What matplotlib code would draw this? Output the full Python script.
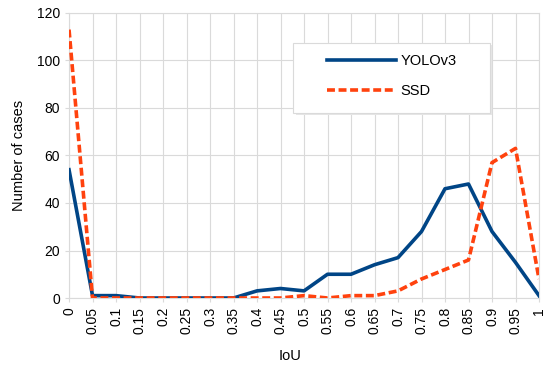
import matplotlib.pyplot as plt
from matplotlib.patches import Rectangle
import numpy as np

plt.rcParams["font.family"] = ["Liberation Sans", "DejaVu Sans"]

iou = [0, 0.05, 0.1, 0.15, 0.2, 0.25, 0.3, 0.35, 0.4, 0.45, 0.5,
       0.55, 0.6, 0.65, 0.7, 0.75, 0.8, 0.85, 0.9, 0.95, 1]
iou_labels = ["0", "0.05", "0.1", "0.15", "0.2", "0.25", "0.3", "0.35", "0.4", "0.45", "0.5",
              "0.55", "0.6", "0.65", "0.7", "0.75", "0.8", "0.85", "0.9", "0.95", "1"]
yolo = [54, 1, 1, 0, 0, 0, 0, 0, 3, 4, 3, 10, 10, 14, 17, 28, 46, 48, 28, 15, 1]
ssd = [113, 0, 0, 0, 0, 0, 0, 0, 0, 0, 1, 0, 1, 1, 3, 8, 12, 16, 57, 63, 8]

grid_c = "#dadada"

fig = plt.figure(figsize=(5.5, 3.67), dpi=100)
ax = fig.add_axes([0.1255, 0.188, 0.8545, 0.7766])

ax.plot(iou, yolo, color="#004586", lw=2.6, label="YOLOv3", zorder=3)
ax.plot(iou, ssd, color="#ff420e", lw=2.6, linestyle=(0, (2.2, 1.0)), label="SSD", zorder=3)

ax.set_xlim(0, 1)
ax.set_ylim(0, 120)
ax.set_xticks(iou)
ax.set_xticklabels(iou_labels, rotation=90)
ax.set_yticks(np.arange(0, 121, 20))
ax.grid(True, color=grid_c, lw=0.8)
ax.set_axisbelow(True)
for s in ax.spines.values():
    s.set_color(grid_c)
    s.set_linewidth(0.8)
ax.tick_params(axis="both", colors=grid_c, labelcolor="black", length=3, width=0.8, labelsize=10)

ax.set_xlabel("IoU", fontsize=10.5)
ax.xaxis.set_label_coords(0.47, -0.18)
ax.set_ylabel("Number of cases", fontsize=10.5, labelpad=8)

# legend box (drawn separately to get the wide side padding of the original)
ax.add_patch(Rectangle((0.482, 0.643), 0.419, 0.2456, transform=ax.transAxes,
                       facecolor="#e6e6e6", edgecolor="none", zorder=4))
ax.add_patch(Rectangle((0.4766, 0.649), 0.419, 0.2456, transform=ax.transAxes,
                       facecolor="white", edgecolor=grid_c, lw=0.8, zorder=5))
leg = ax.legend(loc="upper left", bbox_to_anchor=(0.549, 0.855), frameon=False,
                fontsize=10.5, handlelength=4.7, borderpad=0, labelspacing=1.1,
                handletextpad=0.35, borderaxespad=0)
leg.set_zorder(6)

fig.savefig("out.png", dpi=100)
